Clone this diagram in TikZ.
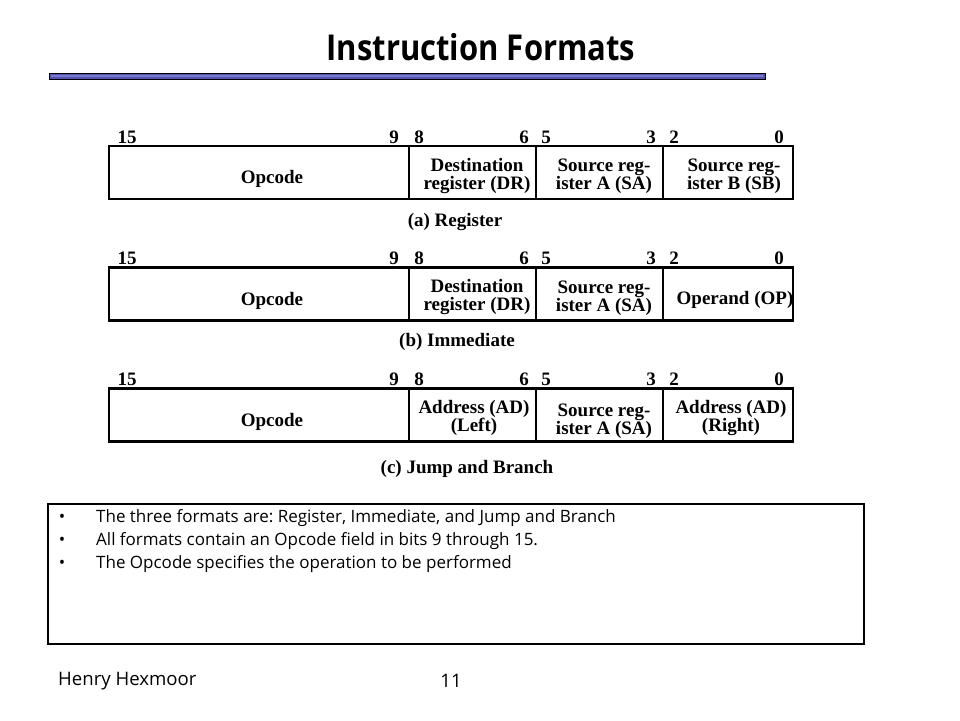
\documentclass[tikz,border=0pt]{standalone}
\usepackage{fontspec}
\setmainfont{Open Sans}
\newfontfamily\tms{Liberation Serif}
\newfontfamily\comic{Open Sans}
\newcommand\tfont{\tms\bfseries\fontsize{19}{18}\selectfont}
\definecolor{barblue}{RGB}{84,84,176}
\definecolor{barlight}{RGB}{120,120,205}
\tikzset{
  cell/.style={draw, line width=2.2pt, minimum height=53pt, inner sep=0pt},
  lbl/.style={font=\tfont, align=center, inner sep=0pt},
  bit/.style={font=\tfont, inner sep=0pt},
  captext/.style={font=\tfont, inner sep=0pt},
  bul/.style={font=\comic\fontsize{17}{19}\selectfont\frenchspacing, anchor=west, inner sep=0pt},
  buldot/.style={font=\comic\fontsize{17}{19}\selectfont, inner sep=0pt},
}
\begin{document}
\begin{tikzpicture}[x=1pt,y=-1pt]
\useasboundingbox (0,0) rectangle (960,720);
% title
\node[font=\comic\bfseries\fontsize{31}{33}\selectfont, inner sep=0pt] (title) at (481,47) {\scalebox{1}[1.15]{Instruction Formats}};
% blue bar
\node[draw=black, line width=0.8pt, fill=barblue, minimum width=716pt, minimum height=6pt, inner sep=0pt] (bar) at (407,76) {};
\draw[barlight, line width=1.2pt] ([xshift=2pt]bar.west) -- ([xshift=-2pt]bar.east);

% ===== Row (a)
\foreach \n/\x in {15/127, 9/394, 8/419, 6/524, 5/546, 3/651, 2/674, 0/779}
  \node[bit] (ba\n) at (\x,137) {\n};
\node[cell, minimum width=300.3pt] (a1) at (258.85,172.5) {};
\node[cell, minimum width=127pt] (a2) at (472.5,172.5) {};
\node[cell, minimum width=127pt] (a3) at (599.5,172.5) {};
\node[cell, minimum width=130pt] (a4) at (728,172.5) {};
\node[lbl] (ta1) at (272,179) {Opcode};
\node[lbl] (ta2) at (477,176) {Destination\\register (DR)};
\node[lbl] (ta3) at (604,176) {Source reg-\\ister A (SA)};
\node[lbl] (ta4) at (734,176) {Source reg-\\ister B (SB)};
\node[captext] (capa) at (455,222) {(a) Register};

% ===== Row (b)
\foreach \n/\x in {15/127, 9/394, 8/419, 6/524, 5/546, 3/651, 2/674, 0/779}
  \node[bit] (bb\n) at (\x,258) {\n};
\node[cell, minimum width=300.3pt] (b1) at (258.85,294) {};
\node[cell, minimum width=127pt] (b2) at (472.5,294) {};
\node[cell, minimum width=127pt] (b3) at (599.5,294) {};
\node[cell, minimum width=130pt] (b4) at (728,294) {};
\node[lbl] (tb1) at (272,301) {Opcode};
\node[lbl] (tb2) at (477,297) {Destination\\register (DR)};
\node[lbl] (tb3) at (604,298) {Source reg-\\ister A (SA)};
\node[lbl] (tb4) at (735,300) {Operand (OP)};
\node[captext] (capb) at (457,342) {(b) Immediate};

% ===== Row (c)
\foreach \n/\x in {15/127, 9/394, 8/419, 6/524, 5/546, 3/651, 2/674, 0/779}
  \node[bit] (bc\n) at (\x,379) {\n};
\node[cell, minimum width=300.3pt] (c1) at (258.85,415) {};
\node[cell, minimum width=127pt] (c2) at (472.5,415) {};
\node[cell, minimum width=127pt] (c3) at (599.5,415) {};
\node[cell, minimum width=130pt] (c4) at (728,415) {};
\node[lbl] (tc1) at (272,422) {Opcode};
\node[lbl] (tc2) at (474,418) {Address (AD)\\(Left)};
\node[lbl] (tc3) at (604,421) {Source reg-\\ister A (SA)};
\node[lbl] (tc4) at (731,418) {Address (AD)\\(Right)};
\node[captext] (capc) at (467,469) {(c) Jump and Branch};

% ===== bullet box
\node[draw, line width=1.2pt, minimum width=816pt, minimum height=140pt, inner sep=0pt] (box) at (456,574) {};
\foreach \y/\t [count=\i] in {518/{The three formats are: Register, Immediate, and Jump and Branch},
                    541/{All formats contain an Opcode field in bits 9 through 15.},
                    564/{The Opcode specifies the operation to be performed}} {
  \node[buldot] (dot\i) at (62,\y) {•};
  \node[bul] (line\i) at (96,\y) {\t};
}

% ===== footer
\node[font=\comic\fontsize{18.6}{21}\selectfont, anchor=west, inner sep=0pt] (author) at (58,681) {Henry Hexmoor};
\node[font=\comic\fontsize{18.6}{21}\selectfont, inner sep=0pt] (page) at (451,681) {11};
\end{tikzpicture}
\end{document}
